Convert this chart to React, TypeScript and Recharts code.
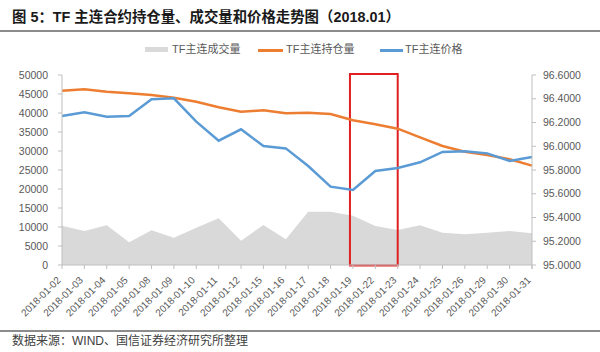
import React from 'react';
import { ComposedChart, Area, Line, XAxis, YAxis, ReferenceArea } from 'recharts';

const dates = [
  '2018-01-02', '2018-01-03', '2018-01-04', '2018-01-05', '2018-01-08', '2018-01-09',
  '2018-01-10', '2018-01-11', '2018-01-12', '2018-01-15', '2018-01-16', '2018-01-17',
  '2018-01-18', '2018-01-19', '2018-01-22', '2018-01-23', '2018-01-24', '2018-01-25',
  '2018-01-26', '2018-01-29', '2018-01-30', '2018-01-31',
];
const volume = [10340, 8950, 10440, 5970, 9120, 7190, 9820, 12280, 6400, 10530, 6750, 14040, 14040, 12980, 10260, 9210, 10440, 8510, 8070, 8510, 8950, 8340];
const openInterest = [45870, 46240, 45600, 45180, 44740, 44030, 42980, 41500, 40350, 40700, 39910, 40090, 39740, 38100, 37020, 35880, 33600, 31320, 29820, 28950, 27810, 26140];
const price = [96.255, 96.286, 96.249, 96.255, 96.395, 96.404, 96.207, 96.047, 96.143, 96.002, 95.982, 95.834, 95.66, 95.632, 95.792, 95.817, 95.865, 95.952, 95.957, 95.94, 95.876, 95.909];

const leftTicks = [0, 5000, 10000, 15000, 20000, 25000, 30000, 35000, 40000, 45000, 50000];
const rightTicks = [95.0, 95.2, 95.4, 95.6, 95.8, 96.0, 96.2, 96.4, 96.6];

const seriesNames = ['TF主连成交量', 'TF主连持仓量', 'TF主连价格'];
const seriesColors = ['#D9D9D9', '#ED7D31', '#5B9BD5'];

const highlightStart = '2018-01-19';
const highlightEnd = '2018-01-23';

const titleText = '图 5：TF 主连合约持仓量、成交量和价格走势图（2018.01）';
const sourceText = '数据来源：WIND、国信证券经济研究所整理';

const data = dates.map((d, i) => ({ date: d, volume: volume[i], oi: openInterest[i], price: price[i] }));

const FONT = '"Liberation Sans", Arial, "Noto Sans CJK SC", sans-serif';
const TICK_COLOR = '#595959';
const AXIS_COLOR = '#BFBFBF';

const XTick = (props: any) => {
  const { x, y, payload, index } = props;
  const off = payload && payload.offset ? payload.offset : 0;
  return (
    <g>
      <line x1={x - off} x2={x - off} y1={y} y2={y + 4} stroke={AXIS_COLOR} />
      {index === dates.length - 1 && (
        <line x1={x + off} x2={x + off} y1={y} y2={y + 4} stroke={AXIS_COLOR} />
      )}
      <text
        transform={`translate(${x - 2.5},${y + 14}) rotate(-45)`}
        textAnchor="end"
        dominantBaseline="middle"
        fontSize={10}
        fontFamily={FONT}
        fill={TICK_COLOR}
      >
        {payload.value}
      </text>
    </g>
  );
};

const RedBox = (p: any) => (
  <rect
    x={p.x - 3}
    y={p.y - 1}
    width={p.width + 3}
    height={p.height + 1.5}
    fill="none"
    stroke="#E02020"
    strokeWidth={2}
  />
);

export default function App() {
  return (
    <div style={{ position: 'absolute', left: 0, top: 0, width: 600, height: 352, background: '#fff', overflow: 'hidden' }}>
      <div
        style={{
          position: 'absolute', left: 12, top: 7, fontSize: 14.4, fontWeight: 'bold',
          fontFamily: FONT, color: '#1a1a1a', whiteSpace: 'nowrap', lineHeight: '20px',
        }}
      >
        {titleText}
      </div>
      <div style={{ position: 'absolute', left: 0, top: 30, width: 600, height: 2, background: '#8C8C8C' }} />

      <div style={{ position: 'absolute', left: 0, top: 40, width: 600, height: 18, fontFamily: FONT, fontSize: 11, color: TICK_COLOR }}>
        <div style={{ position: 'absolute', left: 145, top: 7, width: 23, height: 5, background: seriesColors[0] }} />
        <div style={{ position: 'absolute', left: 172, top: 1, lineHeight: '16px', whiteSpace: 'nowrap' }}>{seriesNames[0]}</div>
        <div style={{ position: 'absolute', left: 258, top: 9, width: 25, height: 2.5, background: seriesColors[1] }} />
        <div style={{ position: 'absolute', left: 286, top: 1, lineHeight: '16px', whiteSpace: 'nowrap' }}>{seriesNames[1]}</div>
        <div style={{ position: 'absolute', left: 380, top: 9, width: 23, height: 2.5, background: seriesColors[2] }} />
        <div style={{ position: 'absolute', left: 405, top: 1, lineHeight: '16px', whiteSpace: 'nowrap' }}>{seriesNames[2]}</div>
      </div>

      <div style={{ position: 'absolute', left: 0, top: 0 }}>
        <ComposedChart width={600} height={352} data={data} margin={{ top: 75, right: 0, bottom: 27, left: 5 }}>
          <XAxis
            dataKey="date"
            interval={0}
            tick={<XTick />}
            tickLine={false}
            tickSize={0}
            tickMargin={0}
            height={60}
            axisLine={{ stroke: AXIS_COLOR }}
            yAxisId="l"
          />
          <YAxis
            yAxisId="l"
            domain={[0, 50000]}
            ticks={leftTicks}
            interval={0}
            width={57}
            tickSize={4}
            tickMargin={10}
            axisLine={{ stroke: AXIS_COLOR }}
            tickLine={{ stroke: AXIS_COLOR }}
            tick={{ fontSize: 10.5, fill: TICK_COLOR, fontFamily: FONT }}
          />
          <YAxis
            yAxisId="r"
            orientation="right"
            domain={[95, 96.6]}
            ticks={rightTicks}
            interval={0}
            width={68}
            tickSize={4}
            tickMargin={7}
            axisLine={{ stroke: AXIS_COLOR }}
            tickLine={{ stroke: AXIS_COLOR }}
            tickFormatter={(v: number) => v.toFixed(4)}
            tick={{ fontSize: 10.5, fill: TICK_COLOR, fontFamily: FONT }}
          />
          <Area
            yAxisId="l"
            type="linear"
            dataKey="volume"
            name={seriesNames[0]}
            fill={seriesColors[0]}
            fillOpacity={1}
            stroke="none"
            isAnimationActive={false}
          />
          <Line
            yAxisId="l"
            type="linear"
            dataKey="oi"
            name={seriesNames[1]}
            stroke={seriesColors[1]}
            strokeWidth={2.5}
            dot={false}
            isAnimationActive={false}
          />
          <Line
            yAxisId="r"
            type="linear"
            dataKey="price"
            name={seriesNames[2]}
            stroke={seriesColors[2]}
            strokeWidth={2.5}
            dot={false}
            isAnimationActive={false}
          />
          <ReferenceArea
            yAxisId="l"
            x1={highlightStart}
            x2={highlightEnd}
            shape={<RedBox />}
            ifOverflow="visible"
          />
        </ComposedChart>
      </div>

      <div style={{ position: 'absolute', left: 0, top: 330, width: 600, height: 1.5, background: '#8C8C8C' }} />
      <div
        style={{
          position: 'absolute', left: 12, top: 332, fontSize: 12, fontFamily: FONT,
          color: '#404040', whiteSpace: 'nowrap', lineHeight: '18px',
        }}
      >
        {sourceText}
      </div>
    </div>
  );
}
